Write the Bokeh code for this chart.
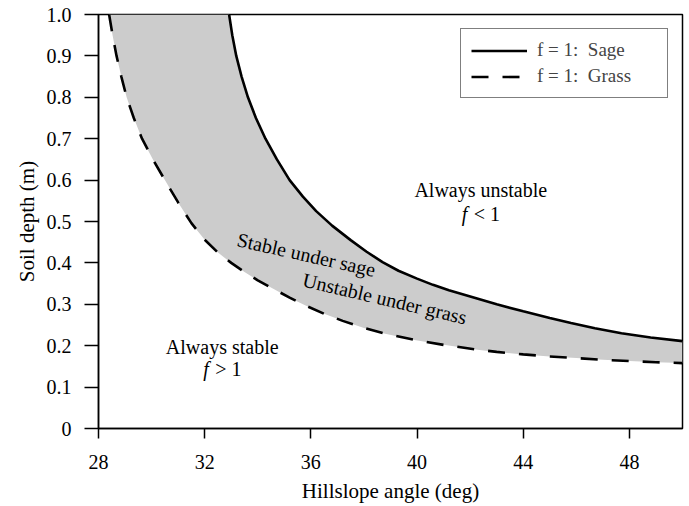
from bokeh.plotting import figure
from bokeh.models import Label, Legend, LegendItem, FixedTicker, Range1d
from bokeh.embed import file_html
from bokeh.resources import INLINE

# f = 1 threshold curves (hillslope angle in deg, soil depth in m)
sage_angle = [32.92, 33.04, 33.19, 33.39, 33.63, 33.93, 34.29, 34.72, 35.20, 35.70, 36.20, 36.80,
              37.50, 38.10, 38.70, 39.30, 40.00, 40.60, 41.20, 42.10, 43.00, 44.00, 45.00, 45.80,
              46.70, 47.70, 48.80, 50.00]
sage_depth = [1.000, 0.950, 0.900, 0.850, 0.800, 0.750, 0.700, 0.650, 0.600, 0.560, 0.525, 0.490,
              0.455, 0.427, 0.402, 0.381, 0.362, 0.347, 0.334, 0.317, 0.300, 0.283, 0.267, 0.255,
              0.242, 0.230, 0.220, 0.211]

grass_angle = [28.40, 28.53, 28.68, 28.86, 29.06, 29.33, 29.64, 30.05, 30.50, 31.00, 31.50, 32.00,
               32.50, 33.00, 33.50, 34.00, 34.60, 35.20, 35.80, 36.50, 37.20, 38.00, 38.80, 39.90,
               41.00, 42.20, 43.00, 44.00, 45.00, 46.00, 47.00, 48.00, 49.00, 50.00]
grass_depth = [1.000, 0.950, 0.900, 0.850, 0.800, 0.750, 0.700, 0.650, 0.600, 0.546, 0.496, 0.456,
               0.425, 0.400, 0.378, 0.358, 0.337, 0.316, 0.297, 0.277, 0.260, 0.243, 0.229, 0.214,
               0.202, 0.191, 0.185, 0.179, 0.174, 0.170, 0.166, 0.163, 0.160, 0.158]

x_ticks = [28, 32, 36, 40, 44, 48]
y_ticks = [0, 0.1, 0.2, 0.3, 0.4, 0.5, 0.6, 0.7, 0.8, 0.9, 1.0]
y_tick_labels = ["0", "0.1", "0.2", "0.3", "0.4", "0.5", "0.6", "0.7", "0.8", "0.9", "1.0"]

series_labels = ["f = 1:  Sage", "f = 1:  Grass"]

FONT = "Liberation Serif"

p = figure(width=689, height=506, output_backend="svg", toolbar_location=None,
           x_range=Range1d(28, 50), y_range=Range1d(0, 1.0),
           min_border_left=98, min_border_right=7, min_border_top=14, min_border_bottom=78)
p.background_fill_color = "white"
p.border_fill_color = "white"
p.outline_line_color = "black"
p.outline_line_width = 1.5
p.xgrid.visible = False
p.ygrid.visible = False

# shaded band between curves
band_x = sage_angle + grass_angle[::-1]
band_y = sage_depth + grass_depth[::-1]
p.patch(band_x, band_y, fill_color="#cccccc", line_color=None)

r_sage = p.line(sage_angle, sage_depth, line_color="black", line_width=2.6)
r_grass = p.line(grass_angle, grass_depth, line_color="black", line_width=2.6, line_dash="17 14")

# axes
for ax in (p.xaxis[0], p.yaxis[0]):
    ax.axis_line_color = "black"
    ax.axis_line_width = 1.5
    ax.major_tick_line_color = "black"
    ax.major_tick_line_width = 1.5
    ax.major_tick_in = 0
    ax.minor_tick_line_color = None
    ax.major_label_text_font = FONT
    ax.major_label_text_font_size = "20px"
    ax.major_label_text_color = "black"
    ax.axis_label_text_font = FONT
    ax.axis_label_text_font_size = "21px"
    ax.axis_label_text_font_style = "normal"
    ax.axis_label_text_color = "black"

p.xaxis.ticker = FixedTicker(ticks=x_ticks)
p.xaxis.major_tick_out = 10
p.xaxis.major_label_standoff = 16
p.xaxis.axis_label = "Hillslope angle (deg)"
p.xaxis.axis_label_standoff = 7

p.yaxis.ticker = FixedTicker(ticks=y_ticks)
p.yaxis.major_label_overrides = {t: s for t, s in zip(y_ticks, y_tick_labels)}
p.yaxis.major_tick_out = 14
p.yaxis.major_label_standoff = 13
p.yaxis.axis_label = "Soil depth (m)"
p.yaxis.axis_label_standoff = 5

# region annotations
def lab(x, y, text, style="normal", angle=0.0, align="center", x_offset=0):
    p.add_layout(Label(x=x, y=y, text=text, text_font=FONT, text_font_size="20px",
                       text_font_style=style, text_align=align, text_baseline="middle",
                       angle=angle, x_offset=x_offset, text_color="black"))

lab(42.4, 0.575, "Always unstable")
lab(42.4, 0.517, "f", style="italic", align="left", x_offset=-19)
lab(42.4, 0.517, "< 1", align="left", x_offset=-7)

lab(32.66, 0.196, "Always stable")
lab(32.66, 0.143, "f", style="italic", align="left", x_offset=-19)
lab(32.66, 0.143, "> 1", align="left", x_offset=-7)

lab(35.83, 0.420, "Stable under sage", angle=-0.22)
lab(38.78, 0.314, "Unstable under grass", angle=-0.23)

legend = Legend(items=[LegendItem(label=series_labels[0], renderers=[r_sage]),
                       LegendItem(label=series_labels[1], renderers=[r_grass])],
                location="top_right", margin=14, padding=10,
                glyph_width=56, glyph_height=21, label_height=21, label_width=120,
                label_standoff=10, spacing=4,
                label_text_font=FONT, label_text_font_size="19px",
                border_line_color="black", border_line_width=1.5,
                background_fill_color="white", background_fill_alpha=1.0)
p.add_layout(legend)

open("out.html", "w").write(file_html(p, INLINE))
